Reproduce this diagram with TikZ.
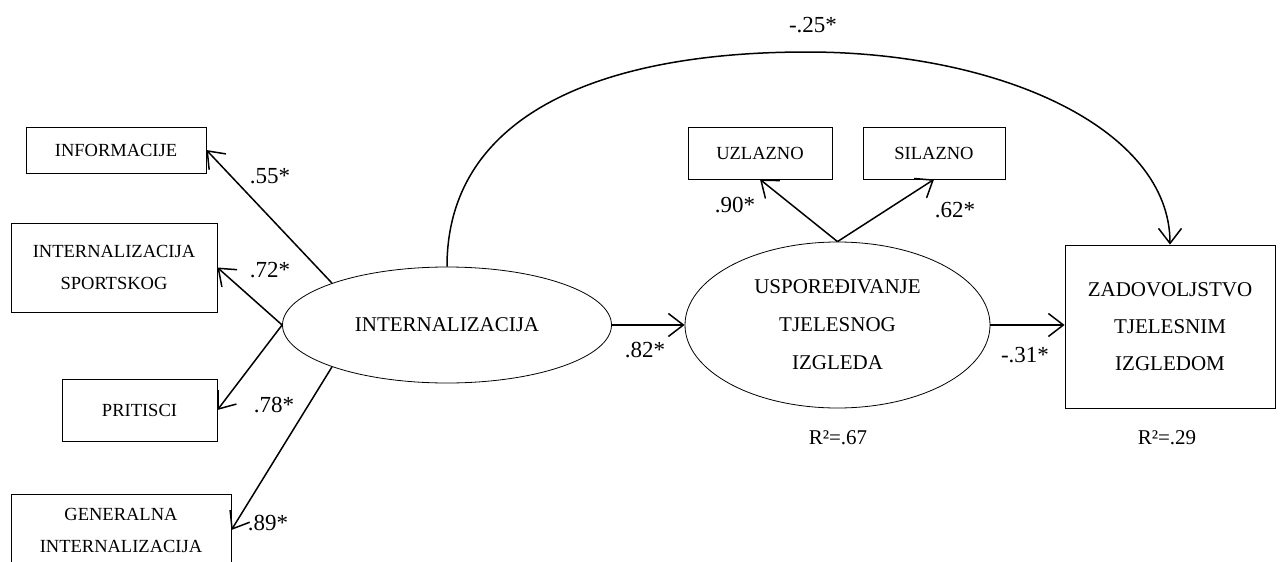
\documentclass[tikz,border=0pt]{standalone}
\usepackage{fontspec}
\setmainfont{Liberation Serif}
\usetikzlibrary{shapes.geometric,arrows.meta}
\tikzset{
  box/.style={draw,line width=0.8pt,inner sep=0pt,align=center,font=\fontsize{18.5}{32}\selectfont},
  lat/.style={ellipse,draw,line width=0.8pt,inner sep=0pt,align=center,font=\fontsize{21}{38}\selectfont},
  pth/.style={line width=1.5pt,-{Straight Barb[length=15pt,width=23pt,line width=1.5pt]}},
  coef/.style={font=\fontsize{23}{23}\selectfont}
}

\begin{document}
\begin{tikzpicture}[x=1pt,y=-1pt]
              \clip(0,0)rectangle(1280,562);
              % indikatori
              \node[box,minimum width=180,minimum height=46](info)at(116,150){INFORMACIJE};
              \node[box,minimum width=206,minimum height=89](sport)at(114,267.5){INTERNALIZACIJA\\SPORTSKOG};
              \node[box,minimum width=155,minimum height=62](prit)at(139.5,410){PRITISCI};
              \node[box,minimum width=220,minimum height=72](gen)at(121,530){GENERALNA\\INTERNALIZACIJA};
              \node[box,minimum width=144,minimum height=52](uz)at(760,153){UZLAZNO};
              \node[box,minimum width=142,minimum height=52](sil)at(934,153){SILAZNO};
              % latentne varijable
              \node[lat,minimum width=329,minimum height=116](int)at(447,325){INTERNALIZACIJA};
              \node[lat,minimum width=305,minimum height=166](usp)at(837.5,325){USPOREĐIVANJE\\TJELESNOG\\IZGLEDA};
              \node[box,minimum width=210,minimum height=163,font=\fontsize{21}{37}\selectfont](zad)at(1170,326.5){ZADOVOLJSTVO\\TJELESNIM\\IZGLEDOM};
              \coordinate(peak)at(807,52);
              % putevi
              \draw[pth](int.160)--(info.east);
              \draw[pth](int.west)--(sport.east);
              \draw[pth](int.west)--(prit.east);
              \draw[pth](int.200)--(gen.east);
              \draw[pth](int.east)--(usp.west);
              \draw[pth](usp.east)--(usp.east -| zad.west);
              \draw[pth](usp.north)--(uz.south);
              \draw[pth](usp.north)--(sil.south);
              \draw[pth](int.north)..controls +(0,-150) and +(-210,0)..(peak)..controls +(195,0) and +(0,-115)..(zad.north);
              \foreach \t/\x/\y [count=\i] in {.55*/270/176, .72*/270/270, .78*/274/405, .89*/268/523, .82*/645/350, .90*/735/205, .62*/955/210, -.31*/1025/355, -.25*/813/25}
                \node[coef](c\i)at(\x,\y){\t};
              \node[coef,font=\fontsize{21}{21}\selectfont](r1)at(838,438){R²=.67};
              \node[coef,font=\fontsize{21}{21}\selectfont](r2)at(1167,438){R²=.29};
            \end{tikzpicture}
\end{document}
